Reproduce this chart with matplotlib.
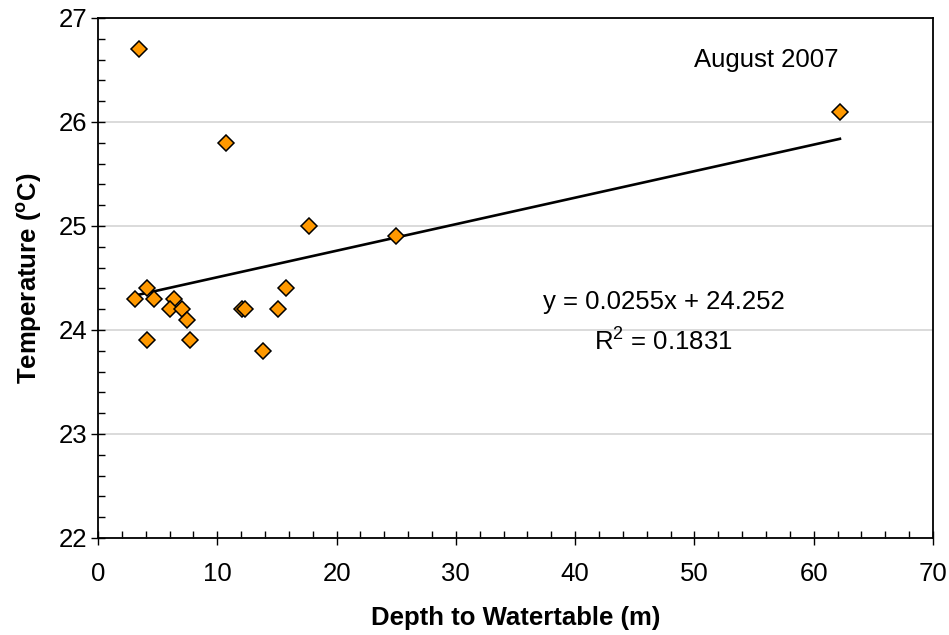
import numpy as np
import matplotlib.pyplot as plt
from matplotlib.ticker import MultipleLocator

plt.rcParams['font.family'] = ['Liberation Sans', 'DejaVu Sans']

# depth to watertable (m) and temperature (C), August 2007
depth = [3.1, 4.1, 4.7, 4.1, 6.4, 6.0, 7.0, 7.5, 7.7, 12.1, 12.3, 15.1, 15.8,
         13.8, 3.4, 10.7, 17.7, 25.0, 62.2]
temp = [24.3, 24.4, 24.3, 23.9, 24.3, 24.2, 24.2, 24.1, 23.9, 24.2, 24.2, 24.2,
        24.4, 23.8, 26.7, 25.8, 25.0, 24.9, 26.1]
slope = 0.0255
intercept = 24.252
r2 = 0.1831

fig = plt.figure(figsize=(9.49, 6.35), dpi=100)
ax = fig.add_axes([0.1033, 0.1528, 0.8798, 0.8189])

ax.grid(axis='y', color='#d4d4d4', lw=1.2, zorder=0)
ax.set_axisbelow(True)

# trend line over the data range
xl = np.array([min(depth), max(depth)])
ax.plot(xl, slope*xl + intercept, color='black', lw=1.9, zorder=2)
ax.plot(depth, temp, 'D', ms=8.2, mfc='#ff9900', mec='black', mew=1.1,
        ls='none', zorder=3)

ax.set_xlim(0, 70)
ax.set_ylim(22, 27)
ax.xaxis.set_major_locator(MultipleLocator(10))
ax.xaxis.set_minor_locator(MultipleLocator(2))
ax.yaxis.set_major_locator(MultipleLocator(1))
ax.yaxis.set_minor_locator(MultipleLocator(0.2))

ax.tick_params(axis='both', which='major', direction='inout', length=10,
               width=1, labelsize=18.5)
ax.tick_params(axis='x', which='major', pad=12)
ax.tick_params(axis='y', which='major', pad=3)
ax.tick_params(axis='both', which='minor', direction='in', length=5, width=1)
for s in ax.spines.values():
    s.set_linewidth(1.3)
    s.set_color('black')

ax.set_xlabel('Depth to Watertable (m)', fontsize=18.5, fontweight='bold',
              labelpad=15)
ax.set_ylabel('Temperature ($^{\\mathregular{o}}$C)', fontsize=18.5,
              fontweight='bold', labelpad=10)

ax.text(56.0, 26.6, 'August 2007', fontsize=18.5, ha='center', va='center')
ax.text(47.4, 24.27, 'y = %.4fx + %.3f' % (slope, intercept), fontsize=18.5,
        ha='center', va='center')
ax.text(47.4, 23.9, 'R$^{\\mathregular{2}}$ = %.4f' % r2, fontsize=18.5,
        ha='center', va='center')

fig.savefig('out.png', dpi=100)
